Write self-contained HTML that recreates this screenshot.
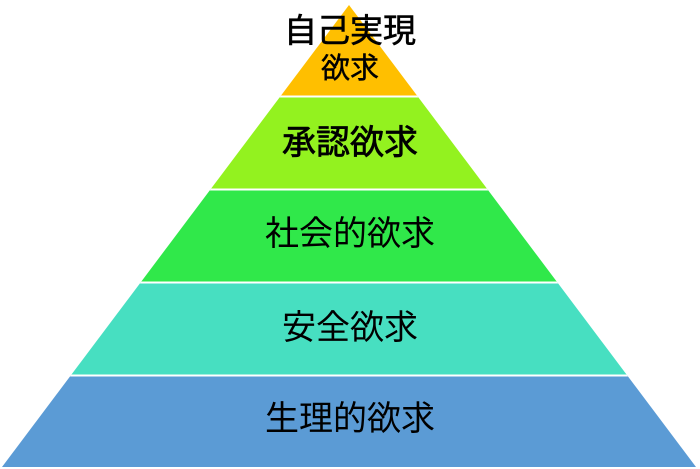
<!DOCTYPE html>
<html><head><meta charset="utf-8"><style>
html,body{margin:0;padding:0;background:#fff;width:700px;height:469px;overflow:hidden}
text{font-family:"Liberation Sans","Noto Sans CJK JP",sans-serif;fill:#000;text-anchor:middle}
</style></head><body>
<svg width="700" height="469" viewBox="0 0 700 469">
<defs><clipPath id="c"><polygon points="349,5 696,467 2,467"/></clipPath></defs>
<g clip-path="url(#c)">
<rect x="0" y="0" width="700" height="96" fill="#ffbf00"/>
<rect x="0" y="96" width="700" height="93" fill="#93f21f"/>
<rect x="0" y="189" width="700" height="93" fill="#30e84a"/>
<rect x="0" y="282" width="700" height="93" fill="#47dfc1"/>
<rect x="0" y="375" width="700" height="94" fill="#5b9bd5"/>
<g fill="#fff"><rect x="0" y="95.5" width="700" height="2"/><rect x="0" y="188.5" width="700" height="2"/><rect x="0" y="281.5" width="700" height="2"/><rect x="0" y="374.5" width="700" height="2"/></g>
</g>
<text x="350" y="42" font-size="33" stroke="#000" stroke-width="0.6">自己実現</text>
<text x="350" y="78" font-size="29" stroke="#000" stroke-width="0.4">欲求</text>
<text x="350" y="154" font-size="34" stroke="#000" stroke-width="0.7">承認欲求</text>
<text x="350" y="245" font-size="34">社会的欲求</text>
<text x="350" y="339" font-size="34">安全欲求</text>
<text x="350" y="430" font-size="34">生理的欲求</text>
</svg>
</body></html>
